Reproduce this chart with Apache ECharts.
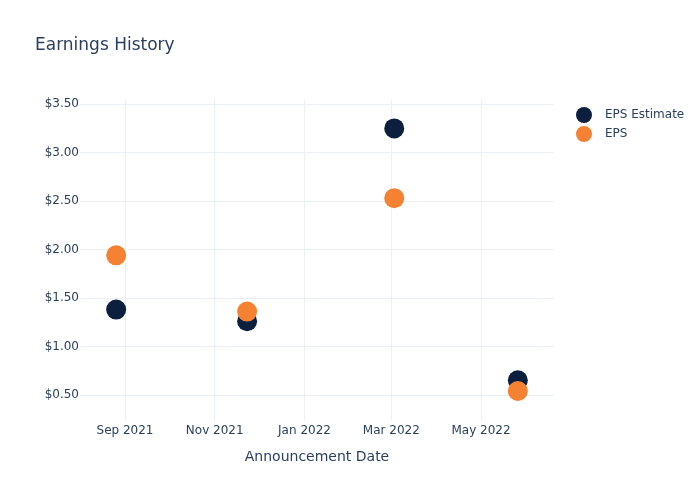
<!DOCTYPE html>
<html>
<head>
<meta charset="utf-8">
<script src="https://cdn.jsdelivr.net/npm/echarts@6/dist/echarts.min.js"></script>
<style>html,body{margin:0;padding:0;background:#fff}#c{width:700px;height:500px}</style>
</head>
<body>
<div id="c"></div>
<script>
const dates = ['2021-08-26', '2021-11-23', '2022-03-03', '2022-05-26'];
const epsEstimate = [1.38, 1.26, 3.25, 0.65];
const eps = [1.94, 1.36, 2.53, 0.54];
const xTickDates = ['2021-09-01', '2021-11-01', '2022-01-01', '2022-03-01', '2022-05-01'];
const yTicks = [0.5, 1.0, 1.5, 2.0, 2.5, 3.0, 3.5];
const monthNames = ['Jan','Feb','Mar','Apr','May','Jun','Jul','Aug','Sep','Oct','Nov','Dec'];

const FONT = 'DejaVu Sans';
const TXT = '#2a3f5f';
const GRID = '#ebf0f8';

function ts(s) { const p = s.split('-').map(Number); return new Date(p[0], p[1]-1, p[2]).getTime(); }
const xTickVals = xTickDates.map(ts);
const HOUR = 3600 * 1000;

const chart = echarts.init(document.getElementById('c'), null, {renderer: 'canvas'});
chart.setOption({
  animation: false,
  backgroundColor: '#fff',
  textStyle: {fontFamily: FONT},
  title: {
    text: 'Earnings History',
    left: 35, top: 37, padding: 0,
    textStyle: {fontFamily: FONT, fontSize: 17, fontWeight: 'normal', color: TXT}
  },
  legend: {
    orient: 'vertical',
    left: 571, top: 102,
    itemWidth: 32, itemHeight: 16, itemGap: 3,
    icon: 'circle',
    textStyle: {fontFamily: FONT, fontSize: 12, color: TXT},
    data: ['EPS Estimate', 'EPS']
  },
  grid: {left: 80, right: 146, top: 100, bottom: 80, containLabel: false},
  xAxis: {
    type: 'value',
    min: ts('2021-08-01') + 10 * HOUR,
    max: ts('2022-06-19') + 14 * HOUR,
    name: 'Announcement Date',
    nameLocation: 'middle',
    nameGap: 30,
    nameTextStyle: {fontFamily: FONT, fontSize: 14, color: TXT},
    axisLine: {show: false},
    axisTick: {show: false, customValues: xTickVals},
    axisLabel: {
      customValues: xTickVals,
      fontFamily: FONT, fontSize: 12, color: TXT, margin: 5,
      formatter: function (v) { const d = new Date(v); return monthNames[d.getMonth()] + ' ' + d.getFullYear(); }
    },
    splitLine: {show: true, lineStyle: {color: GRID, width: 1}}
  },
  yAxis: {
    type: 'value',
    min: 0.241,
    max: 3.543,
    axisLine: {show: false},
    axisTick: {show: false, customValues: yTicks},
    axisLabel: {
      customValues: yTicks,
      fontFamily: FONT, fontSize: 12, color: TXT, margin: 1,
      formatter: function (v) { return '$' + v.toFixed(2); }
    },
    splitLine: {show: true, lineStyle: {color: GRID, width: 1}}
  },
  series: [
    {
      name: 'EPS Estimate', type: 'scatter', symbolSize: 20,
      itemStyle: {color: '#0c1f3f', opacity: 1},
      data: dates.map((d, i) => [ts(d), epsEstimate[i]])
    },
    {
      name: 'EPS', type: 'scatter', symbolSize: 20,
      itemStyle: {color: '#f58232', opacity: 1},
      data: dates.map((d, i) => [ts(d), eps[i]])
    }
  ]
});
</script>
</body>
</html>
